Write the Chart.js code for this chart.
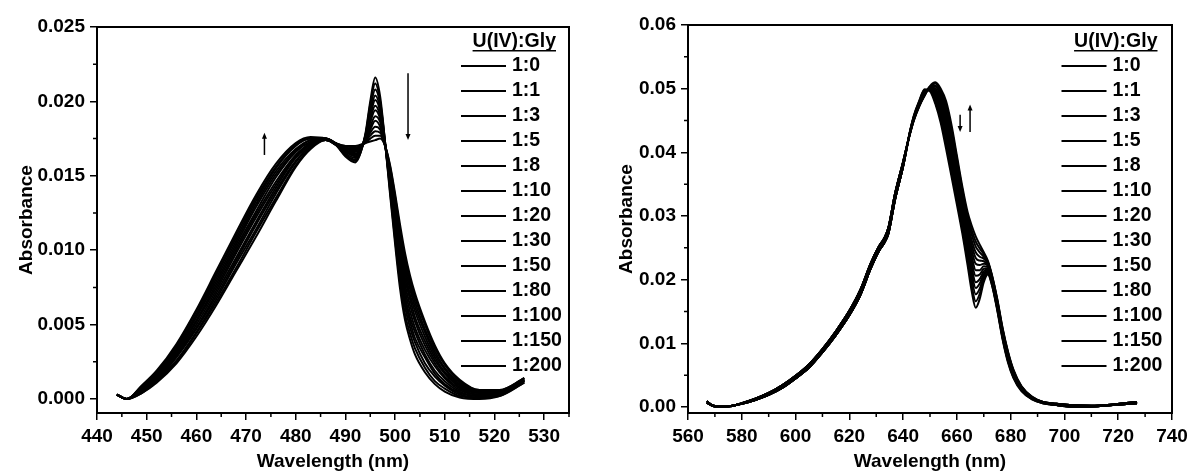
<!DOCTYPE html>
<html>
<head>
<meta charset="utf-8">
<script src="https://cdn.jsdelivr.net/npm/chart.js@4.4.1/dist/chart.umd.min.js"></script>
<style>
  body { margin: 0; background: #fff; width: 1193px; height: 473px; position: relative; overflow: hidden; }
  canvas { position: absolute; top: 0; }
  #c1 { left: 0; }
  #c2 { left: 600px; }
</style>
</head>
<body>
<canvas id="c1" width="600" height="473"></canvas>
<canvas id="c2" width="593" height="473"></canvas>
<script>
// U(IV):Gly ratios, same for both panels
const ratios = ['1:0', '1:1', '1:3', '1:5', '1:8', '1:10', '1:20', '1:30', '1:50', '1:80', '1:100', '1:150', '1:200'];

// ---- left panel (440-535 nm) ----
const leftWavelength = [444, 446, 449, 452, 456, 460, 464, 468, 472, 476, 480, 483, 486, 488, 490, 492, 494, 495, 496, 497, 498, 499, 500, 501, 502, 503, 504, 506, 508, 510, 513, 517, 521, 526];

const left_1_0   = [0.0003, 0, 0.0004, 0.0011, 0.0024, 0.0042, 0.0063, 0.0086, 0.0109, 0.0133, 0.0156, 0.0168, 0.0174, 0.0171, 0.0163, 0.0159, 0.0178, 0.0200, 0.0216, 0.0203, 0.0172, 0.0137, 0.0104, 0.0074, 0.0053, 0.0040, 0.0030, 0.0018, 0.0010, 0.0005, 0.0001, 0, 0.0002, 0.0011];
const left_1_1   = [0.0003, 0, 0.0004, 0.0012, 0.0025, 0.0044, 0.0065, 0.0088, 0.0112, 0.0135, 0.0157, 0.0169, 0.0174, 0.0171, 0.0164, 0.0160, 0.0177, 0.0198, 0.0212, 0.0200, 0.0172, 0.0139, 0.0107, 0.0078, 0.0057, 0.0044, 0.0034, 0.0021, 0.0012, 0.0007, 0.0002, 0.0001, 0.0002, 0.0011];
const left_1_3   = [0.0003, 0, 0.0005, 0.0013, 0.0026, 0.0045, 0.0067, 0.0091, 0.0114, 0.0138, 0.0159, 0.0170, 0.0174, 0.0171, 0.0164, 0.0161, 0.0177, 0.0195, 0.0208, 0.0198, 0.0172, 0.0141, 0.0110, 0.0082, 0.0062, 0.0048, 0.0038, 0.0024, 0.0015, 0.0009, 0.0003, 0.0001, 0.0003, 0.0012];
const left_1_5   = [0.0003, 0, 0.0005, 0.0013, 0.0028, 0.0047, 0.0069, 0.0093, 0.0117, 0.0140, 0.0160, 0.0170, 0.0174, 0.0171, 0.0165, 0.0162, 0.0176, 0.0192, 0.0204, 0.0195, 0.0171, 0.0143, 0.0114, 0.0086, 0.0066, 0.0052, 0.0041, 0.0028, 0.0017, 0.0010, 0.0004, 0.0002, 0.0003, 0.0012];
const left_1_8   = [0.0003, 0, 0.0006, 0.0014, 0.0029, 0.0048, 0.0071, 0.0095, 0.0119, 0.0142, 0.0162, 0.0171, 0.0174, 0.0171, 0.0166, 0.0163, 0.0176, 0.0190, 0.0201, 0.0193, 0.0171, 0.0144, 0.0116, 0.0089, 0.0069, 0.0055, 0.0045, 0.0030, 0.0019, 0.0012, 0.0005, 0.0002, 0.0003, 0.0012];
const left_1_10  = [0.0003, 0, 0.0006, 0.0015, 0.0030, 0.0050, 0.0073, 0.0098, 0.0122, 0.0144, 0.0163, 0.0172, 0.0174, 0.0171, 0.0166, 0.0164, 0.0175, 0.0188, 0.0197, 0.0190, 0.0171, 0.0146, 0.0119, 0.0093, 0.0073, 0.0059, 0.0048, 0.0033, 0.0022, 0.0014, 0.0006, 0.0003, 0.0004, 0.0012];
const left_1_20  = [0.0003, 0, 0.0007, 0.0015, 0.0031, 0.0052, 0.0075, 0.0100, 0.0124, 0.0146, 0.0164, 0.0172, 0.0175, 0.0172, 0.0167, 0.0165, 0.0175, 0.0186, 0.0194, 0.0188, 0.0171, 0.0148, 0.0122, 0.0097, 0.0077, 0.0063, 0.0052, 0.0036, 0.0024, 0.0015, 0.0007, 0.0003, 0.0004, 0.0013];
const left_1_30  = [0.0003, 0, 0.0007, 0.0016, 0.0032, 0.0053, 0.0077, 0.0102, 0.0126, 0.0149, 0.0166, 0.0173, 0.0175, 0.0172, 0.0167, 0.0166, 0.0174, 0.0183, 0.0190, 0.0186, 0.0171, 0.0149, 0.0125, 0.0101, 0.0081, 0.0067, 0.0055, 0.0039, 0.0026, 0.0017, 0.0008, 0.0004, 0.0004, 0.0013];
const left_1_50  = [0.0003, 0, 0.0008, 0.0017, 0.0033, 0.0055, 0.0079, 0.0104, 0.0129, 0.0151, 0.0167, 0.0174, 0.0175, 0.0172, 0.0168, 0.0167, 0.0174, 0.0181, 0.0187, 0.0183, 0.0171, 0.0151, 0.0128, 0.0104, 0.0085, 0.0070, 0.0059, 0.0042, 0.0028, 0.0018, 0.0009, 0.0004, 0.0005, 0.0013];
const left_1_80  = [0.0003, 0, 0.0008, 0.0017, 0.0034, 0.0056, 0.0081, 0.0106, 0.0131, 0.0153, 0.0168, 0.0174, 0.0175, 0.0172, 0.0168, 0.0168, 0.0173, 0.0179, 0.0183, 0.0181, 0.0170, 0.0153, 0.0131, 0.0108, 0.0088, 0.0074, 0.0062, 0.0045, 0.0030, 0.0020, 0.0010, 0.0005, 0.0005, 0.0013];
const left_1_100 = [0.0003, 0, 0.0008, 0.0018, 0.0035, 0.0057, 0.0083, 0.0108, 0.0133, 0.0155, 0.0170, 0.0175, 0.0175, 0.0172, 0.0169, 0.0168, 0.0173, 0.0177, 0.0180, 0.0179, 0.0170, 0.0154, 0.0133, 0.0111, 0.0092, 0.0077, 0.0065, 0.0047, 0.0032, 0.0021, 0.0011, 0.0005, 0.0005, 0.0014];
const left_1_150 = [0.0003, 0, 0.0009, 0.0018, 0.0036, 0.0059, 0.0084, 0.0110, 0.0135, 0.0156, 0.0171, 0.0175, 0.0175, 0.0172, 0.0170, 0.0169, 0.0172, 0.0175, 0.0177, 0.0177, 0.0170, 0.0156, 0.0136, 0.0114, 0.0095, 0.0080, 0.0068, 0.0050, 0.0034, 0.0023, 0.0012, 0.0006, 0.0006, 0.0014];
const left_1_200 = [0.0003, 0, 0.0009, 0.0019, 0.0037, 0.0060, 0.0086, 0.0112, 0.0137, 0.0158, 0.0172, 0.0176, 0.0175, 0.0172, 0.0170, 0.0170, 0.0172, 0.0173, 0.0174, 0.0175, 0.0170, 0.0157, 0.0138, 0.0117, 0.0098, 0.0083, 0.0071, 0.0052, 0.0036, 0.0024, 0.0013, 0.0006, 0.0006, 0.0014];

const leftXTicks = [440, 450, 460, 470, 480, 490, 500, 510, 520, 530];
const leftXMinor = [445, 455, 465, 475, 485, 495, 505, 515, 525, 535];
const leftYTicks = [0, 0.005, 0.010, 0.015, 0.020, 0.025];
const leftYMinor = [0.0025, 0.0075, 0.0125, 0.0175, 0.0225];

// ---- right panel (560-740 nm) ----
// blue wing and far tail: the ratios only split into two close groups there
const rightWlBlue = [567, 569, 572, 575, 580, 585, 590, 595, 600, 605, 610, 615, 620, 624, 628, 631, 633, 634.5, 637, 640];
const rightAbsBlueA = [0.0007, 0.0002, 0, 0.0001, 0.0005, 0.0011, 0.0019, 0.0030, 0.0045, 0.0062, 0.0086, 0.0113, 0.0144, 0.0175, 0.0218, 0.0245, 0.0258, 0.0272, 0.0326, 0.0378];
const rightAbsBlueB = [0.0009, 0.0003, 0.0001, 0.0001, 0.0006, 0.0013, 0.0022, 0.0034, 0.0049, 0.0067, 0.0091, 0.0119, 0.0151, 0.0183, 0.0226, 0.0252, 0.0265, 0.0281, 0.0335, 0.0385];
const rightWlRed = [642.5, 644, 646, 648, 650, 652, 654, 656, 658, 660, 662, 664, 665.5, 667, 668.5, 670, 671.5, 673, 675, 677, 679, 681, 684, 688, 692];
const rightWlTail = [697, 702, 710, 718, 727];
const rightAbsTailA = [0.0003, 0.0001, 0.0001, 0.0003, 0.0006];
const rightAbsTailB = [0.0005, 0.0003, 0.0002, 0.0004, 0.0008];

const right_1_0   = [0.0432, 0.0458, 0.0481, 0.0499, 0.0496, 0.0476, 0.0446, 0.0405, 0.0362, 0.0318, 0.0273, 0.0222, 0.0182, 0.0156, 0.0170, 0.0196, 0.0208, 0.0192, 0.0152, 0.0106, 0.0070, 0.0046, 0.0025, 0.0012, 0.0006];
const right_1_1   = [0.0432, 0.0457, 0.0480, 0.0498, 0.0497, 0.0479, 0.0451, 0.0412, 0.0369, 0.0325, 0.0280, 0.0230, 0.0191, 0.0166, 0.0178, 0.0200, 0.0210, 0.0193, 0.0154, 0.0108, 0.0072, 0.0047, 0.0026, 0.0012, 0.0006];
const right_1_3   = [0.0431, 0.0456, 0.0479, 0.0497, 0.0498, 0.0482, 0.0456, 0.0419, 0.0377, 0.0333, 0.0287, 0.0238, 0.0202, 0.0177, 0.0186, 0.0205, 0.0212, 0.0195, 0.0155, 0.0109, 0.0073, 0.0048, 0.0027, 0.0013, 0.0006];
const right_1_5   = [0.0431, 0.0456, 0.0478, 0.0496, 0.0498, 0.0486, 0.0461, 0.0426, 0.0385, 0.0340, 0.0294, 0.0246, 0.0211, 0.0187, 0.0194, 0.0209, 0.0214, 0.0196, 0.0157, 0.0111, 0.0075, 0.0050, 0.0027, 0.0013, 0.0007];
const right_1_8   = [0.0431, 0.0455, 0.0478, 0.0495, 0.0499, 0.0488, 0.0465, 0.0432, 0.0391, 0.0346, 0.0300, 0.0252, 0.0219, 0.0196, 0.0201, 0.0213, 0.0216, 0.0198, 0.0158, 0.0112, 0.0076, 0.0051, 0.0028, 0.0013, 0.0007];
const right_1_10  = [0.0430, 0.0454, 0.0477, 0.0494, 0.0500, 0.0491, 0.0470, 0.0439, 0.0398, 0.0353, 0.0306, 0.0260, 0.0228, 0.0206, 0.0208, 0.0217, 0.0218, 0.0199, 0.0160, 0.0114, 0.0078, 0.0052, 0.0029, 0.0014, 0.0007];
const right_1_20  = [0.0430, 0.0454, 0.0476, 0.0494, 0.0500, 0.0494, 0.0475, 0.0445, 0.0405, 0.0359, 0.0312, 0.0267, 0.0237, 0.0215, 0.0215, 0.0221, 0.0220, 0.0200, 0.0162, 0.0116, 0.0079, 0.0053, 0.0029, 0.0014, 0.0007];
const right_1_30  = [0.0430, 0.0453, 0.0475, 0.0493, 0.0501, 0.0497, 0.0479, 0.0452, 0.0412, 0.0366, 0.0319, 0.0274, 0.0246, 0.0225, 0.0223, 0.0225, 0.0222, 0.0202, 0.0163, 0.0117, 0.0081, 0.0054, 0.0030, 0.0014, 0.0007];
const right_1_50  = [0.0429, 0.0452, 0.0475, 0.0492, 0.0502, 0.0500, 0.0484, 0.0458, 0.0419, 0.0372, 0.0325, 0.0281, 0.0254, 0.0234, 0.0230, 0.0229, 0.0223, 0.0203, 0.0165, 0.0119, 0.0082, 0.0055, 0.0031, 0.0015, 0.0007];
const right_1_80  = [0.0429, 0.0452, 0.0474, 0.0491, 0.0502, 0.0503, 0.0488, 0.0464, 0.0425, 0.0378, 0.0331, 0.0288, 0.0262, 0.0243, 0.0236, 0.0233, 0.0225, 0.0204, 0.0166, 0.0120, 0.0083, 0.0056, 0.0031, 0.0015, 0.0008];
const right_1_100 = [0.0429, 0.0451, 0.0473, 0.0490, 0.0503, 0.0505, 0.0492, 0.0470, 0.0432, 0.0384, 0.0337, 0.0294, 0.0271, 0.0252, 0.0243, 0.0236, 0.0227, 0.0206, 0.0167, 0.0121, 0.0085, 0.0057, 0.0032, 0.0015, 0.0008];
const right_1_150 = [0.0428, 0.0451, 0.0473, 0.0490, 0.0503, 0.0508, 0.0496, 0.0475, 0.0437, 0.0390, 0.0342, 0.0300, 0.0278, 0.0260, 0.0249, 0.0240, 0.0228, 0.0207, 0.0169, 0.0123, 0.0086, 0.0058, 0.0032, 0.0016, 0.0008];
const right_1_200 = [0.0428, 0.0450, 0.0472, 0.0489, 0.0504, 0.0510, 0.0500, 0.0480, 0.0443, 0.0395, 0.0347, 0.0306, 0.0285, 0.0268, 0.0255, 0.0243, 0.0230, 0.0208, 0.0170, 0.0124, 0.0087, 0.0059, 0.0033, 0.0016, 0.0008];

const rightXTicks = [560, 580, 600, 620, 640, 660, 680, 700, 720, 740];
const rightXMinor = [570, 590, 610, 630, 650, 670, 690, 710, 730];
const rightYTicks = [0, 0.01, 0.02, 0.03, 0.04, 0.05, 0.06];
const rightYMinor = [0.005, 0.015, 0.025, 0.035, 0.045, 0.055];

function toPoints(xs, ys) {
  return xs.map((x, i) => ({ x: x, y: ys[i] }));
}

const leftSets = [left_1_0, left_1_1, left_1_3, left_1_5, left_1_8, left_1_10, left_1_20,
  left_1_30, left_1_50, left_1_80, left_1_100, left_1_150, left_1_200]
  .map((ys, i) => ({ label: ratios[i], data: toPoints(leftWavelength, ys) }));

const rightSets = [right_1_0, right_1_1, right_1_3, right_1_5, right_1_8, right_1_10, right_1_20,
  right_1_30, right_1_50, right_1_80, right_1_100, right_1_150, right_1_200]
  .map((ys, i) => {
    const blue = i < 7 ? rightAbsBlueA : rightAbsBlueB;
    const tail = i < 7 ? rightAbsTailA : rightAbsTailB;
    return {
      label: ratios[i],
      data: toPoints(rightWlBlue, blue).concat(toPoints(rightWlRed, ys), toPoints(rightWlTail, tail))
    };
  });

Chart.defaults.font.family = '"Liberation Sans", Arial, sans-serif';
Chart.defaults.font.size = 19;
Chart.defaults.font.weight = 'bold';
Chart.defaults.color = '#000';

// box round the plot + minor ticks
const frame = {
  id: 'frame',
  afterDraw(chart, args, o) {
    const { ctx, chartArea: a } = chart;
    ctx.save();
    ctx.strokeStyle = '#000';
    ctx.lineWidth = 2;
    ctx.strokeRect(a.left, a.top, a.right - a.left, a.bottom - a.top);
    ctx.lineWidth = 1.5;
    ctx.beginPath();
    o.xMinor.forEach(v => {
      const x = chart.scales.x.getPixelForValue(v);
      ctx.moveTo(x, a.bottom);
      ctx.lineTo(x, a.bottom + 4);
    });
    o.yMinor.forEach(v => {
      const y = chart.scales.y.getPixelForValue(v);
      ctx.moveTo(a.left - 4, y);
      ctx.lineTo(a.left, y);
    });
    ctx.stroke();
    ctx.restore();
  }
};

// the U(IV):Gly key at top right
const ratioKey = {
  id: 'ratioKey',
  afterDraw(chart, args, o) {
    const { ctx, chartArea: a } = chart;
    ctx.save();
    ctx.font = 'bold 19.5px "Liberation Sans", Arial, sans-serif';
    ctx.fillStyle = '#000';
    ctx.strokeStyle = '#000';
    ctx.textBaseline = 'middle';
    ctx.textAlign = 'right';
    const tx = a.right - o.titleRight;
    ctx.fillText(o.title, tx, o.titleY);
    const w = ctx.measureText(o.title).width;
    ctx.fillRect(tx - w, o.titleY + 8, w, 1.5);
    ctx.textAlign = 'left';
    ctx.lineWidth = 2;
    chart.data.datasets.forEach((ds, i) => {
      const y = o.rowTop + i * o.rowGap;
      const x0 = a.right - o.lineFromRight;
      ctx.beginPath();
      ctx.moveTo(x0, y);
      ctx.lineTo(x0 + o.lineLen, y);
      ctx.stroke();
      ctx.fillText(ds.label, x0 + o.lineLen + 6, y);
    });
    ctx.restore();
  }
};

// trend arrows, given in data units
const arrows = {
  id: 'arrows',
  afterDatasetsDraw(chart, args, o) {
    const { ctx } = chart;
    const xs = chart.scales.x, ys = chart.scales.y;
    ctx.save();
    ctx.strokeStyle = '#000';
    ctx.fillStyle = '#000';
    ctx.lineWidth = 1.5;
    o.list.forEach(ar => {
      const x = xs.getPixelForValue(ar.x);
      const y0 = ys.getPixelForValue(ar.from);
      const y1 = ys.getPixelForValue(ar.to);
      const dir = y1 < y0 ? -1 : 1;
      ctx.beginPath();
      ctx.moveTo(x, y0);
      ctx.lineTo(x, y1 - dir * 4);
      ctx.stroke();
      ctx.beginPath();
      ctx.moveTo(x, y1);
      ctx.lineTo(x - 2.5, y1 - dir * 6);
      ctx.lineTo(x + 2.5, y1 - dir * 6);
      ctx.closePath();
      ctx.fill();
    });
    ctx.restore();
  }
};

function panel(id, sets, o) {
  sets.forEach(s => Object.assign(s, {
    borderColor: '#000', borderWidth: 2, pointRadius: 0, fill: false, cubicInterpolationMode: 'monotone'
  }));
  return new Chart(document.getElementById(id), {
    type: 'line',
    data: { datasets: sets },
    options: {
      responsive: false,
      animation: false,
      events: [],
      layout: { padding: { top: o.top, right: o.right, left: 0, bottom: 0 } },
      plugins: {
        legend: { display: false },
        tooltip: { enabled: false },
        frame: { xMinor: o.xMinor, yMinor: o.yMinor },
        ratioKey: { title: 'U(IV):Gly', titleRight: o.titleRight, titleY: 42, rowTop: 66, rowGap: 25, lineFromRight: o.lineFromRight, lineLen: 45 },
        arrows: { list: o.arrows }
      },
      scales: {
        x: {
          type: 'linear', min: o.xMin, max: o.xMax,
          afterFit: s => { s.height = 60; },
          afterBuildTicks: s => { s.ticks = o.xTicks.map(v => ({ value: v })); },
          grid: { drawOnChartArea: false, tickLength: 7, color: '#000', lineWidth: 1.5 },
          border: { display: false },
          ticks: { padding: 5, maxRotation: 0, autoSkip: false },
          title: { display: true, text: 'Wavelength (nm)', padding: { top: 0, bottom: 0 } }
        },
        y: {
          type: 'linear', min: o.yMin, max: o.yMax,
          afterFit: s => { s.width = o.yWidth; },
          afterBuildTicks: s => { s.ticks = o.yTicks.map(v => ({ value: v })); },
          grid: { drawOnChartArea: false, tickLength: 7, color: '#000', lineWidth: 1.5 },
          border: { display: false },
          ticks: { padding: 5, callback: v => v.toFixed(o.dec) },
          title: { display: true, text: 'Absorbance', padding: { top: 15, bottom: 0 } }
        }
      }
    },
    plugins: [frame, ratioKey, arrows]
  });
}

panel('c1', leftSets, {
  top: 27, right: 31, yWidth: 97,
  xMin: 440, xMax: 535, yMin: -0.00094, yMax: 0.025,
  xTicks: leftXTicks, xMinor: leftXMinor, yTicks: leftYTicks, yMinor: leftYMinor, dec: 3,
  titleRight: 13, lineFromRight: 108,
  arrows: [{ x: 473.7, from: 0.0164, to: 0.0179 }, { x: 502.6, from: 0.0219, to: 0.0174 }]
});

panel('c2', rightSets, {
  top: 25, right: 21, yWidth: 88,
  xMin: 560, xMax: 740, yMin: -0.00094, yMax: 0.06,
  xTicks: rightXTicks, xMinor: rightXMinor, yTicks: rightYTicks, yMinor: rightYMinor, dec: 2,
  titleRight: 14.5, lineFromRight: 110.5,
  arrows: [{ x: 661.2, from: 0.0459, to: 0.0432 }, { x: 664.9, from: 0.0432, to: 0.0475 }]
});
</script>
</body>
</html>
